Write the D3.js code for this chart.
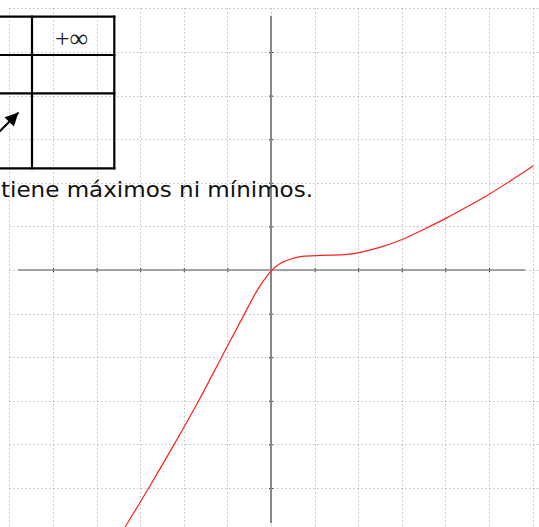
<!DOCTYPE html>
<html>
<head>
<meta charset="utf-8">
<script src="https://cdn.jsdelivr.net/npm/d3@7"></script>
<style>
  html, body { margin: 0; padding: 0; background: #fff; }
  svg { display: block; }
</style>
</head>
<body>
<svg id="chart" width="539" height="527"></svg>
<script>
// ---- data ----
const gridTicks = [-6, -5, -4, -3, -2, -1, 0, 1, 2, 3, 4, 5, 6];
const axisTicks = [-5, -4, -3, -2, -1, 1, 2, 3, 4, 5];
const curveX = [-3.35, -2.8, -2.22, -1.65, -1.17, -0.6, -0.33, 0, 0.14, 0.28, 0.45, 0.59, 0.74, 1.0, 1.35, 1.77, 2.04, 2.5, 3.03, 3.5, 4.03, 4.5, 5.02, 5.5, 6.02];
const curveY = [-5.9, -5.0, -4.0, -3.0, -2.06, -1.0, -0.46, 0, 0.11, 0.19, 0.25, 0.29, 0.32, 0.33, 0.34, 0.35, 0.40, 0.51, 0.70, 0.93, 1.19, 1.45, 1.74, 2.05, 2.39];
const tableHeader = "+\u221E";
const sentence = "tiene máximos ni mínimos.";

// ---- scales ----
const svg = d3.select("#chart");
const x = d3.scaleLinear().domain([-6, 6]).range([9.4, 532.6]);
const y = d3.scaleLinear().domain([-6, 6]).range([531.6, 8.4]);

// ---- grid ----
const grid = svg.append("g").attr("stroke", "#a0a0a0").attr("stroke-width", 1)
  .attr("stroke-dasharray", "1,3");
grid.selectAll("line.v").data(gridTicks).join("line")
  .attr("x1", d => Math.round(x(d)) + 0.5).attr("x2", d => Math.round(x(d)) + 0.5)
  .attr("y1", y(6)).attr("y2", 527);
grid.selectAll("line.h").data(gridTicks).join("line")
  .attr("y1", d => Math.round(y(d)) + 0.5).attr("y2", d => Math.round(y(d)) + 0.5)
  .attr("x1", x(-6)).attr("x2", 539);

// ---- axes ----
const xAxis = d3.axisBottom(x).tickValues(axisTicks).tickFormat("").tickSizeInner(4).tickSizeOuter(0);
const yAxis = d3.axisRight(y).tickValues(axisTicks).tickFormat("").tickSizeInner(4).tickSizeOuter(0);
const gx = svg.append("g").attr("transform", `translate(0,${y(0) - 2})`).call(xAxis);
gx.select(".domain").remove();
gx.selectAll(".tick line").attr("stroke", "#333");
svg.append("line").attr("x1", x(-5.8)).attr("x2", x(5.83)).attr("y1", y(0)).attr("y2", y(0))
  .attr("stroke", "#888").attr("stroke-width", 1.6);
const gy = svg.append("g").attr("transform", `translate(${x(0) - 2},0)`).call(yAxis);
gy.select(".domain").remove();
gy.selectAll(".tick line").attr("stroke", "#333");
svg.append("line").attr("x1", x(0)).attr("x2", x(0)).attr("y1", y(5.83)).attr("y2", y(-5.8))
  .attr("stroke", "#888").attr("stroke-width", 2);

// ---- curve ----
const pts = curveX.map((d, i) => [d, curveY[i]]);
svg.append("path").datum(pts)
  .attr("fill", "none").attr("stroke", "#ff2020").attr("stroke-width", 1.2)
  .attr("d", d3.line().x(d => x(d[0])).y(d => y(d[1])).curve(d3.curveBasis));

// ---- table (partially off-canvas) ----
const tbl = svg.append("g").attr("stroke", "#000").attr("stroke-width", 2.2).attr("fill", "none");
[16.7, 55, 93.3, 168.3].forEach(v => tbl.append("line").attr("x1", -10).attr("x2", 115.4).attr("y1", v).attr("y2", v));
[32, 114.3].forEach(v => tbl.append("line").attr("x1", v).attr("x2", v).attr("y1", 15.6).attr("y2", 169.4));
svg.append("text").attr("x", 55).attr("y", 47).attr("text-anchor", "start")
  .attr("font-family", "Liberation Serif, serif").attr("font-size", 26).attr("fill", "#222")
  .attr("textLength", 33).attr("lengthAdjust", "spacingAndGlyphs")
  .text(tableHeader);

// arrow
svg.append("defs").append("marker").attr("id", "ah").attr("viewBox", "0 0 10 10")
  .attr("refX", 10).attr("refY", 5).attr("markerWidth", 7).attr("markerHeight", 6)
  .attr("markerUnits", "strokeWidth").attr("orient", "auto")
  .append("path").attr("d", "M0,0 L10,5 L0,10 z").attr("fill", "#000");
svg.append("line").attr("x1", -6).attr("y1", 137).attr("x2", 18.5).attr("y2", 112.5)
  .attr("stroke", "#000").attr("stroke-width", 2.2).attr("marker-end", "url(#ah)");

// ---- sentence ----
svg.append("text").attr("x", 1).attr("y", 197).attr("font-family", "DejaVu Sans, sans-serif")
  .attr("font-size", 22).attr("fill", "#111")
  .attr("textLength", 312).attr("lengthAdjust", "spacingAndGlyphs")
  .text(sentence);
</script>
</body>
</html>
